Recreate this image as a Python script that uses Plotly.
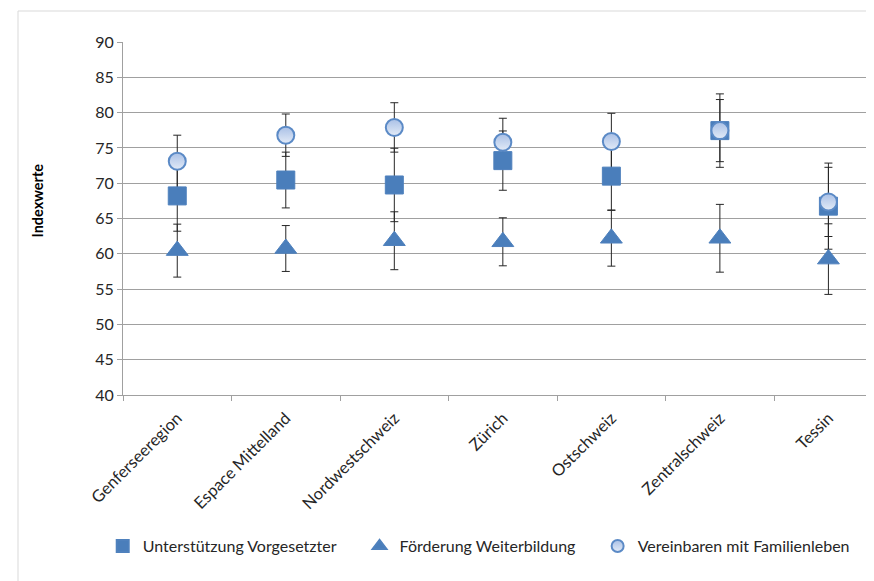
import plotly.graph_objects as go

# Regionen (x-Achse)
regionen = ['Genferseeregion', 'Espace Mittelland', 'Nordwestschweiz', 'Zürich',
            'Ostschweiz', 'Zentralschweiz', 'Tessin']

# Indexwerte je Dimension
vorgesetzte = [68.2, 70.45, 69.75, 73.2, 71.0, 77.45, 66.75]
vorgesetzte_fehler = [5.0, 3.95, 5.2, 4.2, 4.8, 5.2, 6.1]

weiterbildung = [60.45, 60.75, 61.85, 61.7, 62.2, 62.2, 59.25]
weiterbildung_fehler = [3.75, 3.25, 4.1, 3.4, 3.95, 4.8, 5.0]

familie = [73.1, 76.8, 77.9, 75.8, 75.9, 77.45, 67.35]
familie_fehler = [3.7, 3.0, 3.5, 3.4, 4.0, 4.4, 4.9]

blau = '#4a7ebb'
schrift = 'Lato, Calibri, sans-serif'

fig = go.Figure()

# Fehlerbalken zuerst, damit alle Marker darüber liegen
for werte, fehler in [(vorgesetzte, vorgesetzte_fehler),
                      (weiterbildung, weiterbildung_fehler),
                      (familie, familie_fehler)]:
    fig.add_trace(go.Scatter(
        x=regionen, y=werte, mode='markers',
        marker=dict(size=1, opacity=0),
        error_y=dict(type='data', array=fehler, visible=True,
                     color='#262626', thickness=1, width=4),
        showlegend=False, hoverinfo='skip'
    ))

# jede Serie bekommt eine eigene Legende, damit die Abstände stimmen
fig.add_trace(go.Scatter(
    x=regionen, y=vorgesetzte, mode='markers', name='Unterstützung Vorgesetzter',
    marker=dict(symbol='square', size=18, color=blau,
                line=dict(color='#4f81bd', width=1)),
    legend='legend'
))

fig.add_trace(go.Scatter(
    x=regionen, y=weiterbildung, mode='markers', name='Förderung Weiterbildung',
    marker=dict(symbol='triangle-up', size=19, color=blau,
                line=dict(color='#4f81bd', width=1)),
    legend='legend2'
))

fig.add_trace(go.Scatter(
    x=regionen, y=familie, mode='markers', name='Vereinbaren mit Familienleben',
    marker=dict(symbol='circle', size=17, color='#a9c0e6',
                gradient=dict(type='vertical', color='#e3ebf7'),
                line=dict(color='#5b8ac6', width=2)),
    legend='legend3'
))

leg = dict(orientation='h', xanchor='left', y=-0.428, yanchor='middle',
           font=dict(size=16, color='#262626'), itemsizing='constant',
           bgcolor='rgba(0,0,0,0)')

# die Seite hat 8 px Rand, deshalb Figur etwas kleiner
fig.update_layout(
    width=866, height=573,
    margin=dict(l=115, r=0, t=34, b=186),
    paper_bgcolor='white', plot_bgcolor='white',
    font=dict(family=schrift, size=15, color='#262626'),
    showlegend=True,
    legend=dict(leg, x=-0.027),
    legend2=dict(leg, x=0.315),
    legend3=dict(leg, x=0.632),
    xaxis=dict(
        range=[-0.5, 6.42], tickangle=-45, showgrid=False,
        showline=True, linecolor='#a0a0a0', linewidth=1,
        ticks='outside', tickson='boundaries', ticklen=5, tickcolor='#a0a0a0',
        ticklabelstandoff=6, tickfont=dict(size=16.5)
    ),
    yaxis=dict(
        range=[40, 90], dtick=5, showgrid=True, gridcolor='#a0a0a0', gridwidth=1,
        zeroline=False, showline=True, linecolor='#a0a0a0', linewidth=1,
        ticks='outside', ticklen=5, tickcolor='#a0a0a0',
        tickfont=dict(size=16)
    ),
    annotations=[dict(
        text='<b>Indexwerte</b>', textangle=-90, showarrow=False,
        xref='paper', yref='paper', x=-0.114, y=0.552,
        xanchor='center', yanchor='middle', font=dict(size=14.5, color='#000000')
    )],
    shapes=[dict(
        type='rect', xref='paper', yref='paper', x0=-0.1398, x1=1.2, y0=-0.6, y1=1.0878,
        line=dict(color='#d9d9d9', width=1), fillcolor='rgba(0,0,0,0)', layer='below'
    )]
)

fig.write_html('out.html')
